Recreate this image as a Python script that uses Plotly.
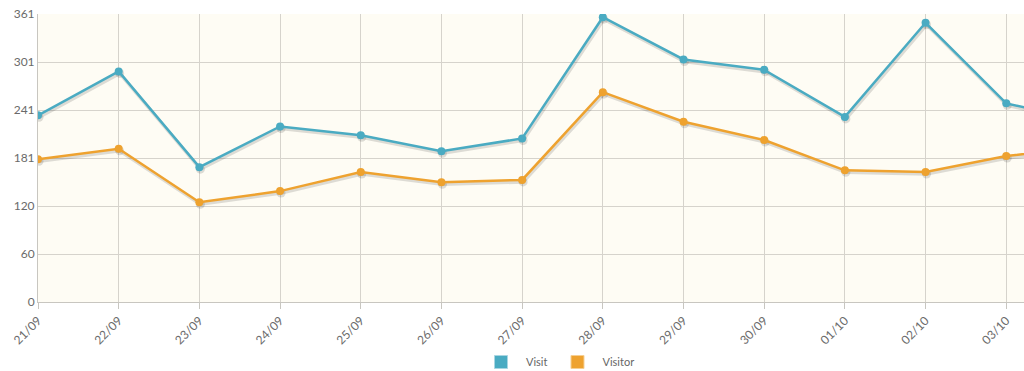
import plotly.graph_objects as go

categories = ["21/09", "22/09", "23/09", "24/09", "25/09", "26/09", "27/09",
              "28/09", "29/09", "30/09", "01/10", "02/10", "03/10", "04/10"]
visit = [234, 289, 169, 220, 209, 189, 205, 357, 304, 291, 232, 350, 249, 227]
visitor = [179, 192, 125, 139, 163, 150, 153, 263, 226, 203, 165, 163, 183, 194]
ytick_vals = [0, 361 / 6, 2 * 361 / 6, 3 * 361 / 6, 4 * 361 / 6, 5 * 361 / 6, 361]
ytick_text = ["0", "60", "120", "181", "241", "301", "361"]

VISIT_C = "#4aabc2"
VISITOR_C = "#eea22f"
SHADOW_C = "rgba(0,0,0,0.13)"

W, H = 1024, 371
ml, mr, mt, mb = 38, 0, 14, 69
pw = W - ml - mr
ph = H - mt - mb
x_hi = 12.22
ppx = pw / x_hi
ppy = ph / 361

idx = list(range(len(categories)))
fig = go.Figure()

# shadows on base (hidden) axes, shifted by a couple of pixels
for vals in (visit, visitor):
    fig.add_trace(go.Scatter(x=idx, y=vals, mode="lines+markers", xaxis="x", yaxis="y",
                             line=dict(color=SHADOW_C, width=3.5),
                             marker=dict(color=SHADOW_C, size=9),
                             showlegend=False, hoverinfo="skip"))

fig.add_trace(go.Scatter(x=idx, y=visit, mode="lines+markers", xaxis="x2", yaxis="y2",
                         line=dict(color=VISIT_C, width=2.5),
                         marker=dict(color=VISIT_C, size=8),
                         showlegend=False, name="Visit"))
fig.add_trace(go.Scatter(x=idx, y=visitor, mode="lines+markers", xaxis="x2", yaxis="y2",
                         line=dict(color=VISITOR_C, width=2.5),
                         marker=dict(color=VISITOR_C, size=8),
                         showlegend=False, name="Visitor"))

# legend entries (square swatches)
for nm, c in (("Visit", VISIT_C), ("Visitor", VISITOR_C)):
    fig.add_trace(go.Scatter(x=[None], y=[None], mode="markers", name=nm, xaxis="x2", yaxis="y2",
                             marker=dict(symbol="square", size=13, color=c,
                                         line=dict(color="#a9d6e2" if nm == "Visit" else "#f6cf93", width=1))))

dx = 1.0 / ppx
dy = 2.0 / ppy
fig.update_layout(
    width=W, height=H,
    margin=dict(l=ml, r=mr, t=mt, b=mb, autoexpand=False),
    paper_bgcolor="white",
    plot_bgcolor="#fefcf4",
    font=dict(family="Lato, 'Open Sans', sans-serif", size=12, color="#666666"),
    xaxis=dict(range=[0 - dx, x_hi - dx], visible=False, showgrid=False, zeroline=False, automargin=False),
    yaxis=dict(range=[0 + dy, 361 + dy], visible=False, showgrid=False, zeroline=False, automargin=False),
    xaxis2=dict(overlaying="x", anchor="y2", side="bottom", range=[0, x_hi],
                tickmode="array", tickvals=idx, ticktext=categories, tickangle=-45,
                showgrid=True, gridcolor="#d6d3cc", gridwidth=1,
                showline=True, linecolor="#c8c6c0", linewidth=1,
                ticks="outside", ticklen=6, tickcolor="#c8c6c0", automargin=False,
                zeroline=False, tickfont=dict(size=12, color="#6a6a6a")),
    yaxis2=dict(overlaying="y", anchor="x2", side="left", range=[0, 361],
                tickmode="array", tickvals=ytick_vals, ticktext=ytick_text,
                showgrid=True, gridcolor="#d6d3cc", gridwidth=1,
                showline=True, linecolor="#c8c6c0", linewidth=1, automargin=False,
                ticks="", zeroline=False, tickfont=dict(size=12, color="#6a6a6a")),
    legend=dict(orientation="h", x=0.5 + 27 / pw, xanchor="center", y=-(362 - (mt + ph)) / ph, yanchor="middle",
                itemwidth=40, font=dict(size=11, color="#666666"), bgcolor="rgba(0,0,0,0)"),
    showlegend=True,
)

fig.write_html("out.html", config={"displayModeBar": False},
               post_script="document.body.style.margin='0';document.body.style.overflow='hidden';")
